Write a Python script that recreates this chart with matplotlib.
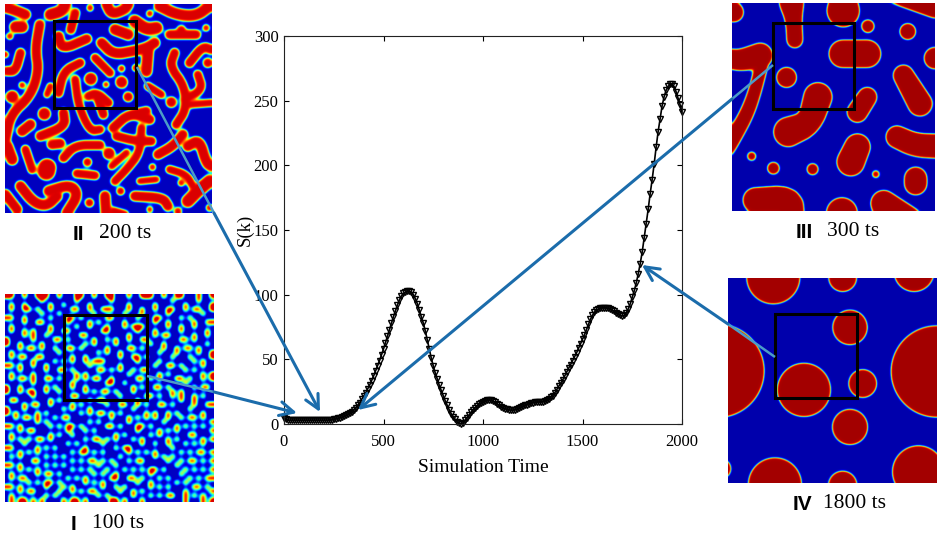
import numpy as np
import matplotlib
matplotlib.use('Agg')
import matplotlib.pyplot as plt
from matplotlib.patches import Rectangle

W, H = 941, 538

# S(k), one value every 10 ts
times = np.arange(0, 2001, 10)
s_k = [
    4.5, 3.5, 3, 3, 3, 3, 3, 3, 3, 3,
    3, 3, 3, 3, 3, 3, 3, 3, 3, 3,
    3, 3, 3, 3.2, 3.4, 3.7, 4, 4.3, 4.8, 5.3,
    5.9, 6.6, 7.4, 8.4, 9.5, 11, 12.5, 14.5, 16.5, 19,
    21.5, 24, 27, 30, 33.5, 37, 41, 45, 49, 53.5,
    58, 63, 68, 73, 78, 83, 87.5, 92, 96, 99,
    101, 102, 102.5, 102.5, 102, 100, 97, 93, 88, 83,
    78, 72, 65, 58, 51, 45, 39.5, 35, 30, 26,
    22, 18, 14.5, 11, 8, 5.5, 3.5, 1.5, 0.5, 0.3,
    1, 3, 5, 7, 9, 11, 12.5, 14, 15.5, 16.5,
    17.3, 18, 18.4, 18.5, 18.3, 17.7, 16.8, 15.7, 14.6, 13.5,
    12.6, 11.9, 11.3, 11, 10.8, 10.8, 11.1, 11.5, 12.2, 13,
    13.7, 14.4, 15, 15.6, 16.2, 16.6, 16.9, 17, 17.1, 17.2,
    17.3, 17.8, 18.6, 19.6, 20.8, 22, 24, 26.5, 29, 31.5,
    34, 37, 40, 43, 46, 49, 52, 55, 58.5, 62,
    65.5, 69, 73, 77, 81, 84, 86.5, 88, 89, 89.7,
    90, 90, 89.8, 89.4, 88.8, 88, 87, 86, 85, 84,
    83.5, 84, 86, 89, 93, 98, 103, 109, 116, 124,
    133, 144, 155, 166, 178, 189, 201, 214, 226, 236,
    246, 253, 258, 261, 262.5, 262.5, 261, 257, 252, 247,
    241,
]

# panel IV: droplets as (x, y, r)
drops_iv = [
    (160, 25, 80), (368, 26, 42), (582, 8, 60), (390, 175, 52), (-7, 305, 140),
    (650, 307, 137), (252, 362, 80), (428, 343, 42), (390, 473, 53),
    (165, 645, 80), (368, 648, 43), (595, 607, 78), (3, 598, 30),
]

# panel III: blobs as chains of (x, y, r)
blobs_iii = [
    [(40, 35, 30)],
    [(215, 5, 38), (222, 60, 25), (225, 118, 25)],
    [(372, 30, 50)],
    [(500, -30, 30), (650, 25, 28)],
    [(447, 77, 20)], [(568, 93, 25)],
    [(370, 160, 42), (445, 160, 42)],
    [(650, 173, 33)],
    [(555, 225, 32), (605, 310, 38)],
    [(120, 165, 38), (60, 180, 33), (30, 175, 30)],
    [(125, 190, 20), (105, 270, 20), (80, 340, 22), (40, 410, 24), (15, 450, 25)],
    [(200, 231, 31)],
    [(295, 290, 44), (270, 370, 38), (205, 395, 45)],
    [(445, 290, 30), (415, 335, 32)],
    [(535, 410, 34), (590, 435, 36), (660, 438, 37)],
    [(415, 440, 40), (395, 485, 43)],
    [(94, 468, 14)], [(160, 504, 19)], [(279, 507, 18)], [(471, 522, 12)],
    [(592, 535, 35), (592, 550, 35)],
    [(105, 600, 38), (210, 595, 40), (215, 650, 40)],
    [(368, 640, 48)],
    [(495, 610, 40), (560, 640, 30), (610, 660, 20)],
]

# panel II: worms as (radius, chain of points)
worms_ii = [
    (14, [(20, 25), (50, 35), (75, 45)]), (16, [(150, 45), (185, 35), (195, 15)]),
    (12, [(225, 40), (212, 90)]), (8, [(270, 25)]),
    (14, [(320, 15), (335, 45), (375, 30), (385, 15)]), (15, [(345, 90), (385, 105)]),
    (17, [(405, 65), (440, 90), (470, 85)]), (15, [(480, 20), (530, 45), (590, 50), (630, 20)]),
    (8, [(450, 42)]), (8, [(620, 85)]), (12, [(510, 105), (590, 105)]), (12, [(545, 92)]),
    (16, [(45, 82), (65, 82)]), (8, [(28, 110)]),
    (13, [(118, 75), (105, 150), (115, 215), (90, 290), (30, 345), (15, 420)]),
    (12, [(60, 160), (45, 215), (20, 215)]), (8, [(14, 165)]),
    (13, [(175, 110), (185, 150), (260, 118)]),
    (14, [(305, 130), (340, 165), (400, 155), (440, 145), (465, 130)]),
    (15, [(445, 150), (440, 215)]), (11, [(285, 175), (330, 220)]),
    (12, [(240, 190), (190, 215), (175, 280)]),
    (17, [(272, 238)]), (7, [(318, 255)]), (16, [(365, 248)]), (8, [(365, 207)]), (9, [(408, 205)]),
    (11, [(225, 240), (235, 320), (270, 395), (300, 390)]),
    (12, [(265, 290), (290, 280), (325, 310)]), (12, [(290, 285), (310, 345)]),
    (13, [(385, 292)]), (10, [(445, 260), (485, 285)]), (8, [(150, 260), (140, 285)]),
    (17, [(35, 292)]), (8, [(65, 257)]), (17, [(132, 343)]), (14, [(65, 395), (90, 375)]),
    (13, [(190, 340), (195, 380), (120, 410)]), (13, [(155, 435), (180, 432)]),
    (12, [(190, 475), (225, 437), (300, 437)]), (11, [(75, 450), (95, 510)]),
    (15, [(20, 440), (35, 480)]), (13, [(340, 385), (390, 340), (450, 360)]),
    (12, [(395, 345), (440, 335)]), (12, [(350, 410), (410, 425), (455, 425)]),
    (11, [(425, 385), (420, 460), (380, 510), (345, 545)]), (14, [(515, 308)]),
    (12, [(525, 160), (510, 200), (555, 260), (560, 330), (530, 375)]),
    (11, [(555, 300), (610, 270), (595, 225)]), (9, [(570, 315), (635, 310)]),
    (12, [(570, 190), (610, 140), (635, 150)]), (12, [(625, 190)]),
    (13, [(475, 465), (520, 440), (550, 405)]),
    (14, [(565, 440), (600, 420), (620, 490), (635, 500)]), (16, [(327, 462)]),
    (9, [(380, 460), (335, 500)]), (25, [(140, 505), (138, 515)]), (11, [(262, 488)]),
    (11, [(230, 522), (285, 528)]), (8, [(458, 503)]), (8, [(420, 545), (470, 540)]),
    (10, [(510, 510), (560, 525), (580, 560)]), (8, [(545, 550)]),
    (14, [(60, 560), (100, 610), (140, 620), (170, 590)]), (13, [(15, 585), (50, 630)]),
    (14, [(145, 575), (210, 555), (235, 585), (200, 640)]), (11, [(268, 610)]),
    (14, [(315, 590), (318, 640)]), (10, [(362, 575)]), (10, [(340, 635), (375, 645)]),
    (13, [(405, 590), (490, 595), (505, 620)]), (7, [(450, 630)]),
    (17, [(565, 605), (600, 570), (630, 545)]), (9, [(535, 635)]), (8, [(630, 625)]),
]

# panel I: ridge map of the labyrinth, '#' is a ridge
ridges_i = [
    "##..#..###..#...##..#..##...#..###..#..##...#..#",
    "........#.......#.......#.............#.....#...",
    ".#..#.....#..#.....#........#.....#......#.....#",
    ".#..##.#..#....##..#..###...#..#..#..##..#.##..#",
    "........#...#.......#......#...#.....#.......#..",
    "##..#.....#...##.#.....##.....#...##....#.#.....",
    "....#..##.....#....#.#.....#......#..#.....#..##",
    ".#........#.....#..#...#...#.###.....#..#..#....",
    ".#..#.#...#..##.......##......#...#.....#.....#.",
    "....#.#..#.......##.........#.....#.##.....#..#.",
    "#.....#....##.#.....#..#.#..#..##.......##.#....",
    "#..#....#.........#.#....#.......#..#.........#.",
    "...#.##.#..#..##.#.....#....##.#....#..#.##.#...",
    ".#..........#........#.#..#........#...#....#..#",
    ".#.##..##......#..#.......#..##.#.....#...#....#",
    "......#....#.#.#..#.###.......#....#.......#.#..",
    "##.#..#..#.........#......#.......#..##.#....#..",
    "...#.....#..##.#.....##.#.#..#.##........#.#....",
    ".#....#.........#.#.........#......#.#.......#.#",
    ".#.##.#..##.#...#.#.##..#.....##.#.#...##.#..#.#",
    "......#........#.......##..#.............#......",
    "#..#.....#.#...#..#..........#.#..##.#.....#.##.",
    "#..#.##..#..#.....#.#.##.#...#........#.#.......",
    "......#........##.........#.....##.#..#.#..#.#..",
    ".##.......#.#......#.##.......#.........#..#....",
    "....#.##..#....#.#.....#..##..#.#..##.#....#..##",
    "#...#........#.#...#.........#............#.....",
    "#.#....#.#.......#.#.##.#.#.....#.#..#.#.....#..",
    "..#.##.#...#.##.........#...#.#.#.#..#..#.##.#..",
    ".......#.#.........#.#......#.......#..........#",
    "##.#......#.#.##.#.....##.#...##.#.....#.#.#.#..",
    "...#.##.......#...#.#.........#....#.#.#.......#",
    ".#........#.#..#.........#.#.....#.#......##....",
    ".#.#.#.##.#.......#.##.#.#...#.#.....#.#.....#.#",
    "....#.........#.#.....#........#..#..#...#.#.#..",
    "##.....#.#.#......#......#.##.........#.........",
    "...#.#.#.......#.##.#.#.....#.#.#.#.....#.#.##.#",
    ".#.#.....#.#.#............#.......#.#.#..........",
    "......##.......#.#.##.#.#...#.##.....#..#.##.#.#",
    "##.#.....#.#.#.......#...#.............#........",
    "...#.#.#.......#.#.#...#...#.#.#.##.#....#.#.#.#",
    ".#.....#.##.#.......#.#..#.......#......#.......",
    ".#.##.........#.#.#.....##..##.#...#.#....#.#.##",
    ".....#.#.##.#.....#.#.#.......#..#.....#.#......",
    "##.#.....#...#.#......#..#.#.....#.#.#.....##.#.",
    "...#.##.....#..#.#.##.....#..#.#.........#.....#",
    ".#.......#.#.........#.#.....#...#.#.##..#.#.#..",
    ".#.##.#.#....#.##.#.....##.#...#.........#...#.#",
]

tick_x = [0, 500, 1000, 1500, 2000]
tick_y = [0, 50, 100, 150, 200, 250, 300]

ARROW = '#1b6cab'
LIGHT = '#4b9cc8'
plt.rcParams['font.family'] = ['Liberation Serif', 'DejaVu Serif']

fig = plt.figure(figsize=(W / 100, H / 100), dpi=100)


def box(x0, y0, x1, y1):
    # pixel box, y measured from the top of the image
    return [x0 / W, 1 - y1 / H, (x1 - x0) / W, (y1 - y0) / H]


def round_chain(pts):
    # corner cutting so the worms bend instead of kinking
    for _ in range(2):
        if len(pts) < 3:
            return pts
        new = [pts[0]]
        for a, b in zip(pts[:-1], pts[1:]):
            a, b = np.array(a, float), np.array(b, float)
            new += [tuple(0.75 * a + 0.25 * b), tuple(0.25 * a + 0.75 * b)]
        new.append(pts[-1])
        pts = new
    return pts


def chain_field(shapes, xx, yy):
    # signed distance to the union of round-capped chains, positive inside
    f = np.full(xx.shape, -1e3)
    for pts in shapes:
        pts = round_chain(pts)
        if len(pts) == 1:
            pts = pts * 2
        for a, b in zip(pts[:-1], pts[1:]):
            dx, dy = b[0] - a[0], b[1] - a[1]
            t = ((xx - a[0]) * dx + (yy - a[1]) * dy) / max(dx * dx + dy * dy, 1e-6)
            t = np.clip(t, 0, 1)
            d = np.hypot(xx - a[0] - t * dx, yy - a[1] - t * dy)
            f = np.maximum(f, a[2] + t * (b[2] - a[2]) - d)
    return f


def blur(f, sigma):
    n = int(3 * sigma) + 1
    k = np.exp(-0.5 * (np.arange(-n, n + 1) / sigma) ** 2)
    k /= k.sum()
    g = np.pad(f, n, mode='edge')
    g = np.apply_along_axis(lambda v: np.convolve(v, k, mode='same'), 0, g)
    g = np.apply_along_axis(lambda v: np.convolve(v, k, mode='same'), 1, g)
    return g[n:-n, n:-n]


def panel(px_box, extent, field, rect, low, high):
    ax = fig.add_axes(box(*px_box))
    img = low + (high - low) * field
    ax.imshow(img, cmap='jet', vmin=0, vmax=1, extent=extent, interpolation='bilinear', aspect='auto')
    ax.add_patch(Rectangle((rect[0], rect[1]), rect[2] - rect[0], rect[3] - rect[1],
                           fill=False, ec='black', lw=2.2))
    ax.set_xlim(extent[0], extent[1])
    ax.set_ylim(extent[2], extent[3])
    ax.axis('off')


def grid(x0, x1, y0, y1):
    return np.meshgrid(np.linspace(x0, x1, 420), np.linspace(y0, y1, 420))


def edge(f, w):
    return 0.5 + 0.5 * np.tanh(f / w)


# panel II
xx, yy = grid(14, 637, 14, 640)
shapes = [[(x, y, r) for x, y in pts] for r, pts in worms_ii]
panel((5, 4, 212, 213), (14, 637, 640, 14), edge(blur(chain_field(shapes, xx, yy), 3) + 3, 3.0),
      (160, 66, 408, 325), 0.055, 0.92)

# panel III
xx, yy = grid(35, 650, 8, 632)
panel((732, 3, 935, 211), (35, 650, 632, 8), edge(blur(chain_field(blobs_iii, xx, yy), 4), 2.5),
      (160, 68, 406, 325), 0.04, 0.965)

# panel IV
xx, yy = grid(25, 650, 25, 640)
shapes = [[d] for d in drops_iv]
panel((728, 278, 937, 483), (25, 650, 640, 25), edge(chain_field(shapes, xx, yy), 2.5),
      (167, 133, 410, 385), 0.04, 0.965)

# panel I, ridge map smoothed with a small gaussian
ridge = np.array([[c == '#' for c in row.ljust(48, '.')[:48]] for row in ridges_i], dtype=float)
ridge = np.repeat(np.repeat(ridge, 6, axis=0), 6, axis=1)
ridge = blur(ridge, 3.4)
panel((5, 294, 214, 502), (14, 642, 650, 27), np.clip((ridge - 0.17) / 0.48, 0, 1),
      (192, 90, 440, 345), 0.06, 0.92)

# main plot
ax = fig.add_axes(box(284, 36, 682, 424))
ax.plot(times, s_k, color='black', lw=1.2, marker='v', ms=5, mfc='none', mec='black', mew=1.0, clip_on=False)
ax.set_xlim(0, 2000)
ax.set_ylim(0, 300)
ax.set_xticks(tick_x)
ax.set_yticks(tick_y)
ax.tick_params(direction='in', top=True, right=True, length=3.5, width=0.8, labelsize=12, pad=4)
ax.tick_params(axis='x', pad=7)
ax.set_xlabel('Simulation Time', fontsize=14, labelpad=7)
ax.set_ylabel('S(k)', fontsize=13.5, labelpad=0)
for side in ax.spines.values():
    side.set_linewidth(0.8)
    side.set_color('#222222')

# overlay in image pixels for arrows and captions
ov = fig.add_axes([0, 0, 1, 1], facecolor='none')
ov.set_xlim(0, W)
ov.set_ylim(H, 0)
ov.axis('off')

for start, mid, tip in [((147, 376), (214, 392), (297, 413)),
                        ((137, 67), (214, 213), (320, 412)),
                        ((773, 65), (732, 99), (358, 410)),
                        ((775, 357), (728, 324), (642, 265))]:
    ov.plot([start[0], mid[0]], [start[1], mid[1]], color=LIGHT, lw=1.8, solid_capstyle='butt')
    ov.annotate('', xy=tip, xytext=mid,
                arrowprops=dict(arrowstyle='->,head_length=1.0,head_width=0.5', color=ARROW, lw=2.2,
                                shrinkA=0, shrinkB=0))

for x, y, roman, label, lx in [(78, 234, 'II', '200 ts', 125), (74, 524, 'I', '100 ts', 118),
                               (804, 232, 'III', '300 ts', 853), (802, 504, 'IV', '1800 ts', 855)]:
    ov.text(x, y, roman, family='Liberation Sans', weight='bold', fontsize=15, ha='center', va='center')
    ov.text(lx, y, label, fontsize=15.5, ha='center', va='center')

fig.savefig('out.png', dpi=100)
